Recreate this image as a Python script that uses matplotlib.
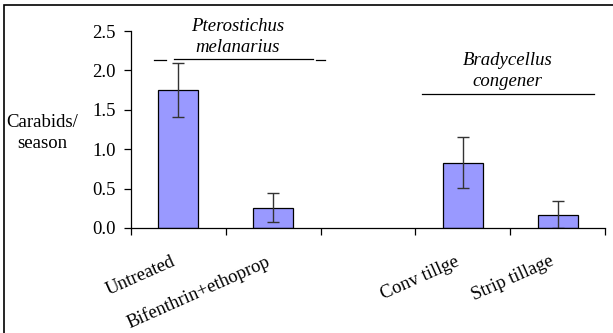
import numpy as np
import matplotlib
matplotlib.use("Agg")
from matplotlib import pyplot as plt
from matplotlib.patches import Rectangle
from matplotlib.ticker import FuncFormatter, MultipleLocator
from matplotlib.transforms import ScaledTranslation

categories = ['Untreated', 'Bifenthrin+ethoprop', '', 'Conv tillge', 'Strip tillage']
means = [1.75, 0.26, np.nan, 0.83, 0.17]
errors = [0.34, 0.18, np.nan, 0.32, 0.17]
groups = ['Pterostichus\nmelanarius', 'Bradycellus\ncongener']

plt.rcParams['font.family'] = ['Liberation Serif', 'DejaVu Serif']
plt.rcParams['font.size'] = 13.5


def format_y_tick(value, _):
    return f"{value:.1f}"


def main():
    fig = plt.figure(figsize=(6.13, 3.33), dpi=100)
    ax = fig.add_axes([131 / 613, 1 - 228 / 333, 474 / 613, 197 / 333])

    x = np.arange(len(categories))
    ax.bar(x, means, width=0.42, color='#9999FF', edgecolor='black', linewidth=0.9)
    ax.errorbar(x, means, yerr=errors, fmt='none', ecolor='#333333',
                elinewidth=1, capsize=4.5, capthick=1)

    ax.set_xlim(-0.5, len(categories) - 0.5)
    ax.set_ylim(0, 2.5)
    ax.yaxis.set_major_locator(MultipleLocator(0.5))
    ax.yaxis.set_major_formatter(FuncFormatter(format_y_tick))

    ax.set_xticks(x)
    ax.set_xticklabels(categories, rotation=24, ha='right', va='top',
                       rotation_mode='anchor')
    ax.set_xticks(np.arange(len(categories) + 1) - 0.5, minor=True)
    ax.tick_params(axis='x', which='major', length=0, pad=18)
    ax.tick_params(axis='x', which='minor', length=5, width=0.9, direction='out')
    ax.tick_params(axis='y', length=5, width=0.9, pad=6)

    # nudge the rotated labels left (after tick_params, which resets transforms)
    shift = ScaledTranslation(-0.08, 0, fig.dpi_scale_trans)
    for lab in ax.get_xticklabels():
        lab.set_transform(lab.get_transform() + shift)

    for side in ['top', 'right']:
        ax.spines[side].set_visible(False)
    for side in ['left', 'bottom']:
        ax.spines[side].set_linewidth(0.9)

    ax.set_ylabel('Carabids/\nseason', rotation=0, ha='center', va='center',
                  linespacing=1.3)
    ax.yaxis.set_label_coords(-0.188, 0.48)

    # species group labels with their lines
    ax.text(0.62, 2.234, groups[0], style='italic', ha='center', va='baseline',
            linespacing=1.3)
    ax.plot([-0.26, -0.13], [2.135, 2.135], color='black', lw=0.9, clip_on=False)
    ax.plot([-0.05, 1.42], [2.145, 2.145], color='black', lw=0.9, clip_on=False)
    ax.plot([1.45, 1.55], [2.135, 2.135], color='black', lw=0.9, clip_on=False)

    ax.text(3.47, 1.802, groups[1], style='italic', ha='center', va='baseline',
            linespacing=1.3)
    ax.plot([2.57, 4.38], [1.70, 1.70], color='black', lw=0.9, clip_on=False)

    fig.patches.append(Rectangle((4 / 613, -0.05), 1.1, 1.05 - 5 / 333,
                                 transform=fig.transFigure, fill=False,
                                 edgecolor='black', linewidth=1.2))

    fig.savefig('out.png', dpi=100)


if __name__ == "__main__":
    main()
